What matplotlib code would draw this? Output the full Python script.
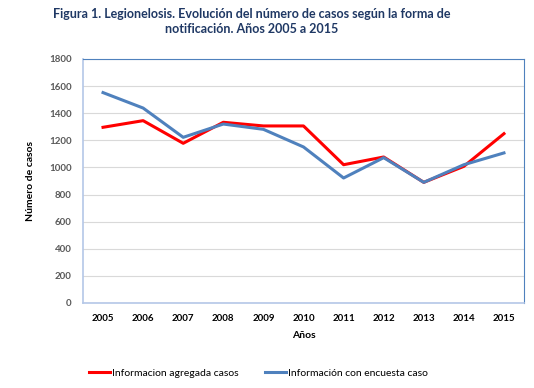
import matplotlib.pyplot as plt

# Datos
years = ['2005', '2006', '2007', '2008', '2009', '2010', '2011', '2012', '2013', '2014', '2015']
agregada = [1296, 1345, 1178, 1333, 1306, 1306, 1020, 1077, 890, 1008, 1249]
encuesta = [1552, 1438, 1222, 1320, 1281, 1151, 922, 1072, 890, 1020, 1107]
yticks = [0, 200, 400, 600, 800, 1000, 1200, 1400, 1600, 1800]

plt.rcParams['font.family'] = ['Lato', 'DejaVu Sans']

fig = plt.figure(figsize=(5.34, 3.88), dpi=100)
ax = fig.add_axes([0.1554, 0.2191, 0.8259, 0.6289])

x = range(len(years))
ax.plot(x, agregada, color='#FF0000', lw=2.2, label='Informacion agregada casos')
ax.plot(x, encuesta, color='#4F81BD', lw=2.2, label='Información con encuesta caso')

ax.set_xlim(-0.5, len(years) - 0.5)
ax.set_ylim(0, 1800)
ax.set_xticks(list(x))
ax.set_xticklabels(years, fontsize=7, fontweight='bold', color='black')
ax.set_yticks(yticks)
ax.set_yticklabels([str(v) for v in yticks], fontsize=7, fontweight='bold', color='#595959')
ax.tick_params(length=0, pad=8)
ax.yaxis.grid(True, color='#D9D9D9', lw=0.8)
ax.set_axisbelow(True)

for side in ['top', 'right']:
    ax.spines[side].set_color('#4F81BD')
    ax.spines[side].set_linewidth(0.8)
for side in ['left', 'bottom']:
    ax.spines[side].set_color('#B4C7E7')
    ax.spines[side].set_linewidth(1.2)

ax.set_xlabel('Años', fontsize=7.5, fontweight='bold', labelpad=6)
ax.set_ylabel('Número de casos', fontsize=7.5, fontweight='bold', labelpad=10)

fig.text(0.472, 0.963, 'Figura 1. Legionelosis. Evolución del número de casos según la forma de',
         ha='center', va='center', fontsize=9.0, fontweight='bold', color='#1F3864')
fig.text(0.472, 0.924, 'notificación. Años 2005 a 2015',
         ha='center', va='center', fontsize=9.0, fontweight='bold', color='#1F3864')

fig.legend(loc='center', bbox_to_anchor=(0.484, 0.038), ncol=2, frameon=False,
           fontsize=7.5, handlelength=2.0, handletextpad=0.2, columnspacing=2.6)

fig.savefig('out.png', dpi=100)
